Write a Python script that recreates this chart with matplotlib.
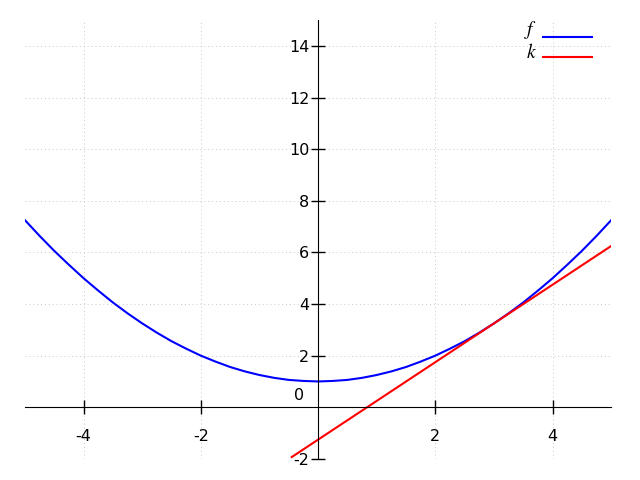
import matplotlib
matplotlib.use("Agg")
import matplotlib.pyplot as plt
from matplotlib.legend_handler import HandlerLine2D

plt.rcParams["mathtext.fontset"] = "stix"

x_f = [-5.0, -4.75, -4.5, -4.25, -4.0, -3.75, -3.5, -3.25, -3.0, -2.75,
       -2.5, -2.25, -2.0, -1.75, -1.5, -1.25, -1.0, -0.75, -0.5, -0.25,
       0.0, 0.25, 0.5, 0.75, 1.0, 1.25, 1.5, 1.75, 2.0, 2.25,
       2.5, 2.75, 3.0, 3.25, 3.5, 3.75, 4.0, 4.25, 4.5, 4.75, 5.0]
y_f = [7.25, 6.64, 6.06, 5.52, 5.0, 4.52, 4.06, 3.64, 3.25, 2.89,
       2.56, 2.27, 2.0, 1.77, 1.56, 1.39, 1.25, 1.14, 1.06, 1.02,
       1.0, 1.02, 1.06, 1.14, 1.25, 1.39, 1.56, 1.77, 2.0, 2.27,
       2.56, 2.89, 3.25, 3.64, 4.06, 4.52, 5.0, 5.52, 6.06, 6.64, 7.25]

# k : droite rouge (extremites)
x_k = [-0.45, 5.0]
y_k = [-1.93, 6.25]

x_ticks = [-4, -2, 2, 4]
y_ticks = [-2, 2, 4, 6, 8, 10, 12, 14]


class LowLine(HandlerLine2D):
    """Trait de legende abaisse de `drop` points."""
    def __init__(self, drop, **kw):
        super().__init__(**kw)
        self.drop = drop

    def create_artists(self, legend, orig_handle, xdescent, ydescent,
                       width, height, fontsize, trans):
        arts = super().create_artists(legend, orig_handle, xdescent, ydescent,
                                      width, height, fontsize, trans)
        for a in arts:
            a.set_ydata([y - self.drop for y in a.get_ydata()])
        return arts


fig = plt.figure(figsize=(6.4, 4.8), dpi=100)
ax = fig.add_axes([0.039, 0.044, 0.916, 0.914])

line_f, = ax.plot(x_f, y_f, color="#0000ff", linewidth=1.5, label="$f$")
line_k, = ax.plot(x_k, y_k, color="#ff0000", linewidth=1.5, label="$k$")

ax.set_xlim(-5, 5)
ax.set_ylim(-2, 15)

ax.spines["left"].set_position(("data", 0))
ax.spines["bottom"].set_position(("data", 0))
ax.spines["top"].set_visible(False)
ax.spines["right"].set_visible(False)

ax.set_xticks(x_ticks)
ax.set_yticks(y_ticks)
ax.set_xticklabels([str(t) for t in x_ticks])
ax.set_yticklabels([str(t) for t in y_ticks])
ax.tick_params(direction="inout", length=10.5, width=1, labelsize=11.5)
ax.tick_params(axis="x", pad=10.5)
ax.tick_params(axis="y", pad=1)
ax.text(-0.32, 0.45, "0", fontsize=11.5, ha="center", va="center")

ax.grid(True, linestyle=(0, (1, 3)), color="#c8c8c8", linewidth=0.7)

ax.legend(loc="upper right", frameon=False, markerfirst=False, fontsize=14,
          handlelength=2.5, handletextpad=0.3, borderaxespad=0,
          labelspacing=0.12, bbox_to_anchor=(0.98, 1.02),
          handler_map={line_f: LowLine(6.2), line_k: LowLine(4.1)})

fig.savefig("out.png", dpi=100)
